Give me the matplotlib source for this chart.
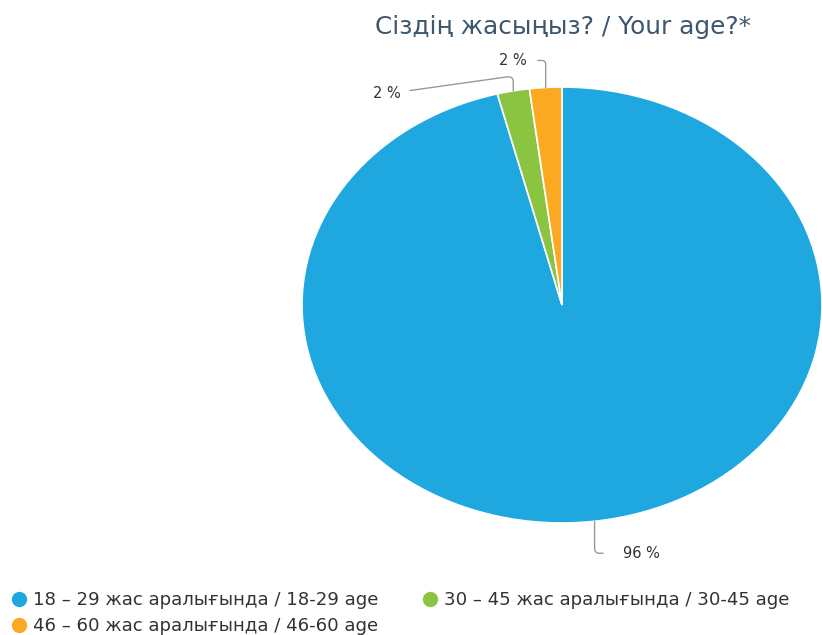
import numpy as np
import matplotlib
matplotlib.use("Agg")
import matplotlib.pyplot as plt
from matplotlib.lines import Line2D

categories = ["18 – 29 жас аралығында / 18-29 age",
              "30 – 45 жас аралығында / 30-45 age",
              "46 – 60 жас аралығында / 46-60 age"]
values = [96, 2, 2]
labels = ["96 %", "2 %", "2 %"]
colors = ["#1fa8e0", "#8bc441", "#fba922"]
title = "Сіздің жасыңыз? / Your age?*"

plt.rcParams['font.family'] = ['DejaVu Sans']
fig = plt.figure(figsize=(8.22, 6.35), dpi=100)
ax = fig.add_axes([302/822, (635-523)/635, 520/822, 436/635])
wedges, _ = ax.pie(values, colors=colors, startangle=90, counterclock=False,
                   wedgeprops=dict(edgecolor="white", linewidth=1.2))
ax.set_aspect('auto')
ax.set_xlim(-1, 1)
ax.set_ylim(-1, 1)
ax.axis('off')

# label placement (offsets in pixels from edge anchor)
offsets = [(28, -32), (-113, -3), (-19, 27)]
conn = ["angle,angleA=0,angleB=90,rad=5",
        "angle,angleA=8,angleB=90,rad=6",
        "angle,angleA=0,angleB=90,rad=4"]
has = ["left", "right", "right"]
shrinks = [12, 5, 6]
for w, lab, off, cs, ha, sh in zip(wedges, labels, offsets, conn, has, shrinks):
    ang = np.deg2rad((w.theta1 + w.theta2) / 2)
    x, y = np.cos(ang), np.sin(ang)
    ax.annotate(lab, xy=(x, y), xytext=off, textcoords='offset pixels',
                ha=ha, va='center', fontsize=10.5, color="#333333",
                arrowprops=dict(arrowstyle='-', color="#999999", lw=1,
                                connectionstyle=cs, shrinkA=sh, shrinkB=0),
                annotation_clip=False)

fig.text(563/822, 1 - 27/635, title, ha='center', va='center',
         fontsize=17.8, color="#3e576f")

handles = [Line2D([], [], marker='o', linestyle='none', markersize=10,
                  markerfacecolor=c, markeredgecolor=c) for c in colors]
order = [0, 2, 1]
leg = fig.legend([handles[i] for i in order], [categories[i] for i in order],
                 loc='lower left', bbox_to_anchor=(-0.008, -0.026), ncol=2,
                 frameon=False, fontsize=13.1, handletextpad=0.3,
                 columnspacing=2.3, labelspacing=0.45, handlelength=1.0,
                 labelcolor="#333333")

fig.savefig("out.png", dpi=100)
